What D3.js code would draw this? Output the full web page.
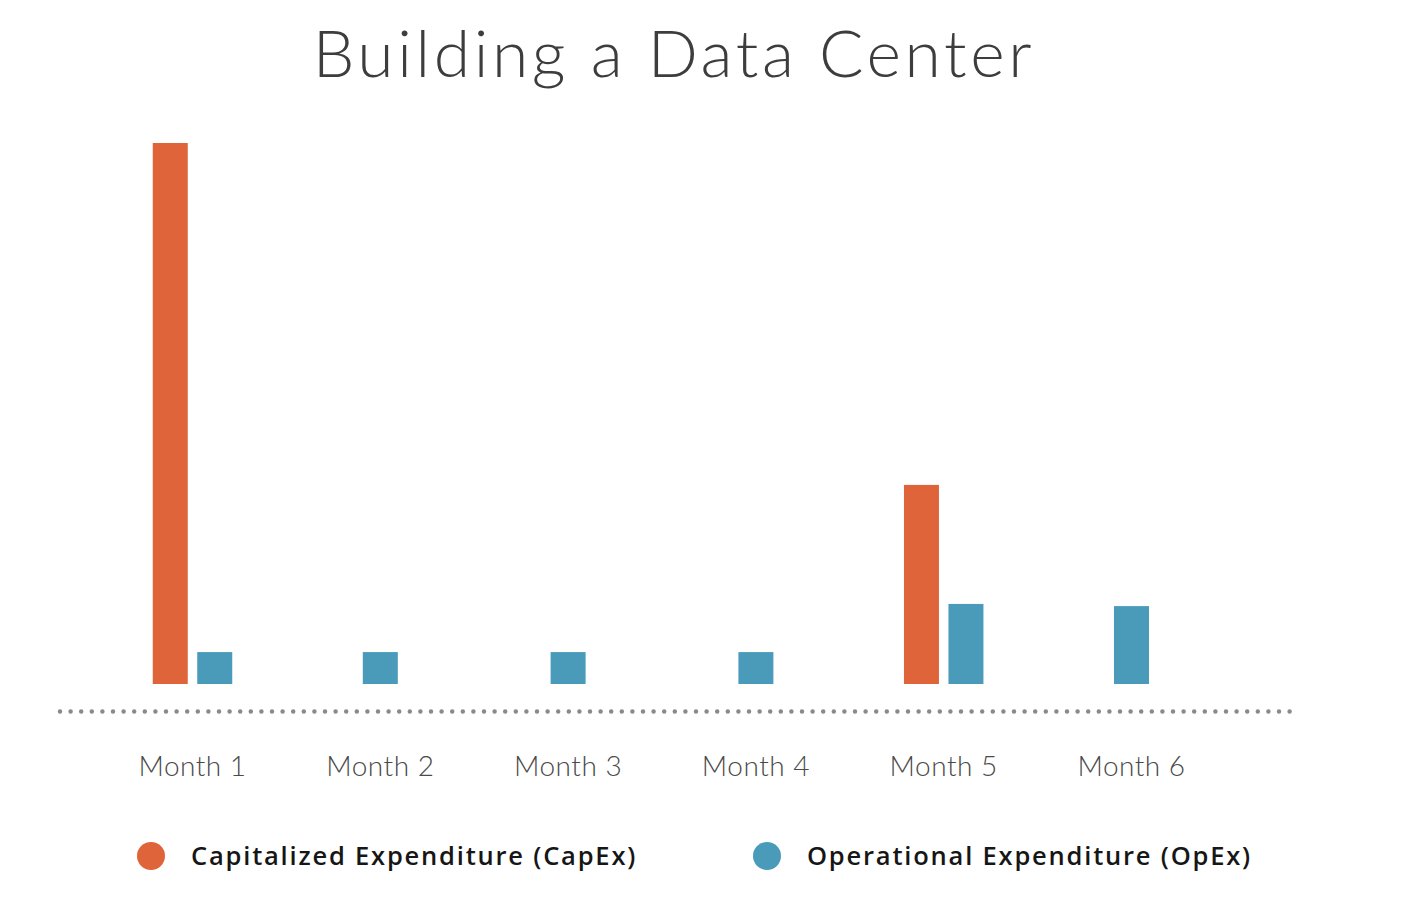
<!DOCTYPE html>
<html>
<head>
<meta charset="utf-8">
<script src="https://cdn.jsdelivr.net/npm/d3@7"></script>
<style>
  html, body { margin: 0; padding: 0; background: #ffffff; }
  svg { display: block; }
</style>
</head>
<body>
<svg id="chart" width="1414" height="902"></svg>
<script>
// ---- Data ----
const title = "Building a Data Center";
const months = ["Month 1", "Month 2", "Month 3", "Month 4", "Month 5", "Month 6"];
const seriesNames = ["Capitalized Expenditure (CapEx)", "Operational Expenditure (OpEx)"];
const capex = [100, null, null, null, 36.8, null];
const opex  = [5.9, 5.9, 5.9, 5.9, 14.8, 14.4];
const seriesColors = ["#df643a", "#4a9bba"];

// ---- Layout ----
const svg = d3.select("#chart");
const baseY = 684;

const x = d3.scaleBand().domain(months).range([98.6, 1225.4]).padding(0);
const y = d3.scaleLinear().domain([0, 100]).range([baseY, 143]);

const barW = 35, barGap = 9.5;

// Title
svg.append("text")
  .attr("x", 674).attr("y", 77)
  .attr("text-anchor", "middle")
  .style("font-family", "Lato, 'Open Sans', sans-serif")
  .style("font-weight", 300)
  .style("font-size", "66px")
  .style("letter-spacing", "3.6px")
  .style("fill", "#3d3d3d")
  .text(title);

// Bars
const seriesData = [capex, opex];
const bars = [];
months.forEach((m, i) => {
  const present = seriesData.map((s, k) => ({k, v: s[i]})).filter(d => d.v != null);
  const n = present.length;
  present.forEach((d, j) => {
    const cx = x(m) + x.bandwidth() / 2 + (j - (n - 1) / 2) * (barW + barGap);
    bars.push({month: m, k: d.k, v: d.v, cx});
  });
});

svg.append("g").selectAll("rect")
  .data(bars)
  .join("rect")
  .attr("x", d => d.cx - barW / 2)
  .attr("y", d => y(d.v))
  .attr("width", barW)
  .attr("height", d => y(0) - y(d.v))
  .attr("fill", d => seriesColors[d.k]);

// Dotted baseline
svg.append("line")
  .attr("x1", 60).attr("x2", 1292)
  .attr("y1", 711.5).attr("y2", 711.5)
  .attr("stroke", "#8a8a8a")
  .attr("stroke-width", 4.5)
  .attr("stroke-linecap", "round")
  .attr("stroke-dasharray", "0 10.6");

// Month labels via axis
const xAxis = d3.axisBottom(x).tickSize(0).tickPadding(0);
const axisG = svg.append("g")
  .attr("transform", "translate(0,756)")
  .call(xAxis);
axisG.select(".domain").remove();
axisG.selectAll("text")
  .attr("dy", "0.71em")
  .attr("y", 0)
  .style("font-family", "Lato, 'Open Sans', sans-serif")
  .style("font-weight", 300)
  .style("font-size", "28px")
  .style("letter-spacing", "0.5px")
  .style("fill", "#4a4a4a");

// Legend
const legendX = [151, 767];
const lg = svg.append("g").selectAll("g")
  .data(seriesNames)
  .join("g")
  .attr("transform", (d, i) => `translate(${legendX[i]},856)`);
lg.append("circle")
  .attr("r", 14)
  .attr("fill", (d, i) => seriesColors[i]);
lg.append("text")
  .attr("x", 40)
  .attr("y", 0)
  .attr("dy", "0.35em")
  .style("font-family", "'Open Sans', Lato, sans-serif")
  .style("font-weight", 600)
  .style("font-size", "25.5px")
  .style("letter-spacing", "1.8px")
  .style("fill", "#161616")
  .text(d => d);
</script>
</body>
</html>
